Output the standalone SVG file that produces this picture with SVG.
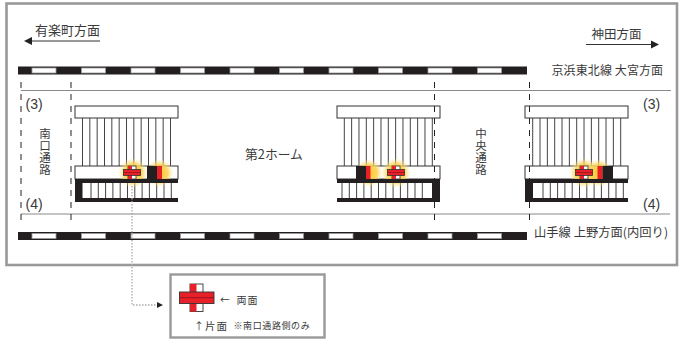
<svg xmlns="http://www.w3.org/2000/svg" width="683" height="340" viewBox="0 0 683 340">
<style>
text{font-family:"Noto Sans CJK JP","Noto Sans",sans-serif;fill:#3a3a3a;font-size:12px}
.lat{font-family:"Liberation Sans",sans-serif;font-size:14px}
.v{writing-mode:vertical-rl;font-size:11.5px;letter-spacing:.5px}
.frame{fill:#fff;stroke:#999;stroke-width:2.6}
.rule{stroke:#8a8a8a;stroke-width:1.2;fill:none}
.dash{stroke:#222;stroke-width:1;stroke-dasharray:6 6;fill:none}
.box{fill:#fff;stroke:#333;stroke-width:1}
.stair{stroke:#444;stroke-width:1;fill:none}
.blk{fill:#231f20}
.red{fill:#e8202a}
.railw{fill:#fff;stroke:#999;stroke-width:.8}
</style>
<defs>
<radialGradient id="glow"><stop offset="0" stop-color="#f9c520" stop-opacity="1"/><stop offset=".6" stop-color="#fbd050" stop-opacity=".85"/><stop offset="1" stop-color="#fdeaa0" stop-opacity="0"/></radialGradient>
<g id="cross">
<rect x="-4" y="-6.500" width="8" height="13" fill="#fff" stroke="#333" stroke-width=".8"/>
<rect x="-4" y="-6.500" width="4" height="13" class="red"/>
<rect x="-8.500" y="-3" width="17" height="6" class="red" stroke="#333" stroke-width=".8"/>
<path d="M-8.500 0H8.500" stroke="#7a1015" stroke-width=".6"/>
</g>
<path id="treads" class="stair" d="M0 0V48M7.330 0V48M14.670 0V48M22 0V48M29.330 0V48M36.670 0V48M44 0V48M51.330 0V48M58.670 0V48M66 0V48M73.330 0V48M80.670 0V48M88 0V48"/>
<path id="rails" stroke="#444" stroke-width="1" fill="none" d="M0 0V16M7.300 0V16M14.600 0V16M21.900 0V16M29.200 0V16M36.500 0V16M43.800 0V16M51.100 0V16M58.400 0V16M65.700 0V16M73 0V16M80.300 0V16"/>
</defs>
<rect id="frame" class="frame" x="6.500" y="3.500" width="670.500" height="261.500"/>
<g id="track-top">
<rect class="blk" x="18" y="66.500" width="509" height="8"/>
<g class="railw"><rect x="32" y="68" width="24" height="5"/><rect x="81.500" y="68" width="24" height="5"/><rect x="131" y="68" width="24" height="5"/><rect x="180.500" y="68" width="24" height="5"/><rect x="230" y="68" width="24" height="5"/><rect x="279.500" y="68" width="24" height="5"/><rect x="329" y="68" width="24" height="5"/><rect x="378.500" y="68" width="24" height="5"/><rect x="428" y="68" width="24" height="5"/><rect x="477.500" y="68" width="24" height="5"/></g>
</g>
<g id="track-bottom">
<rect class="blk" x="18" y="232" width="509" height="8"/>
<g class="railw"><rect x="32" y="233.500" width="24" height="5"/><rect x="81.500" y="233.500" width="24" height="5"/><rect x="131" y="233.500" width="24" height="5"/><rect x="180.500" y="233.500" width="24" height="5"/><rect x="230" y="233.500" width="24" height="5"/><rect x="279.500" y="233.500" width="24" height="5"/><rect x="329" y="233.500" width="24" height="5"/><rect x="378.500" y="233.500" width="24" height="5"/><rect x="428" y="233.500" width="24" height="5"/><rect x="477.500" y="233.500" width="24" height="5"/></g>
</g>
<path class="rule" d="M21 90.500H671M21 214H670"/>
<g id="stairs-west">
<rect class="box" x="75" y="106" width="103" height="12"/>
<use href="#treads" x="82.500" y="118"/>
<rect class="box" x="75" y="166" width="103" height="13"/>
<use href="#rails" x="91" y="183"/>
<circle cx="133" cy="173" r="15" fill="url(#glow)"/>
<circle cx="159.500" cy="173" r="14" fill="url(#glow)"/>
<rect class="blk" x="147" y="166" width="10" height="13"/>
<rect class="red" x="157" y="166" width="5" height="13"/>
<rect class="blk" x="75" y="179" width="103" height="4"/>
<rect class="blk" x="75" y="179" width="7.500" height="23"/>
<rect class="blk" x="75" y="198" width="103" height="4"/>
<use href="#cross" x="132" y="172.500"/>
</g>
<g id="stairs-centre">
<rect class="box" x="337" y="106" width="103" height="12"/>
<use href="#treads" x="344.300" y="118"/>
<rect class="box" x="337" y="166" width="103" height="13"/>
<use href="#rails" x="342" y="183"/>
<circle cx="369" cy="173" r="14" fill="url(#glow)"/>
<circle cx="396" cy="173" r="15" fill="url(#glow)"/>
<rect class="blk" x="356" y="166" width="10" height="13"/>
<rect class="red" x="366" y="166" width="4.500" height="13"/>
<rect class="blk" x="337" y="179" width="103" height="4"/>
<rect class="blk" x="432" y="179" width="8" height="23"/>
<rect class="blk" x="337" y="198" width="103" height="4"/>
<use href="#cross" x="396" y="172.500"/>
</g>
<g id="stairs-east">
<rect class="box" x="525" y="106" width="103" height="12"/>
<use href="#treads" x="532.700" y="118"/>
<rect class="box" x="525" y="166" width="103" height="13"/>
<use href="#rails" x="543" y="183"/>
<circle cx="584" cy="173" r="15" fill="url(#glow)"/>
<circle cx="599" cy="173" r="14" fill="url(#glow)"/>
<rect class="red" x="597.500" y="166" width="5" height="13"/>
<rect class="blk" x="602.500" y="166" width="10.500" height="13"/>
<rect class="blk" x="525" y="179" width="103" height="4"/>
<rect class="blk" x="525" y="179" width="8" height="23"/>
<rect class="blk" x="525" y="198" width="103" height="4"/>
<use href="#cross" x="584" y="172.500"/>
</g>
<g id="connectors">
<path class="dash" d="M21 82V222M71 82V222M434.500 82V222M529.500 82V222"/>
<path d="M32 41H100" stroke="#333" stroke-width="1" fill="none"/>
<path d="M32 37L24 41L32 45z" fill="#222"/>
<path d="M586 44.500H652" stroke="#333" stroke-width="1" fill="none"/>
<path d="M651 40.500L659 44.500L651 48.500z" fill="#222"/>
<path d="M132 186V305H159" stroke="#aaa" stroke-width="1.300" stroke-dasharray="1.500 1.500" fill="none"/>
<path d="M157 302L163 305L157 308z" fill="#222"/>
</g>
<g id="labels">
<text x="35" y="34.500" style="font-size:13px">有楽町方面</text>
<text x="591.500" y="39" style="font-size:12.500px">神田方面</text>
<text x="551.500" y="74.500" style="font-size:12px;letter-spacing:.1px">京浜東北線 大宮方面</text>
<text x="534" y="237" style="font-size:12.300px">山手線 上野方面(内回り)</text>
<text x="245" y="159" style="font-size:12.800px">第2ホーム</text>
<text class="lat" x="25.500" y="108.500">(3)</text>
<text class="lat" x="25.500" y="209">(4)</text>
<text class="lat" x="643" y="108.500">(3)</text>
<text class="lat" x="643" y="209">(4)</text>
<text class="v" x="45" y="128">南口通路</text>
<text class="v" x="481" y="128">中央通路</text>
</g>
<g id="legend">
<rect x="170.500" y="274.500" width="154" height="63" fill="#fff" stroke="#999" stroke-width="2.400"/>
<rect x="190" y="284" width="13" height="27.500" fill="#fff" stroke="#333" stroke-width=".9"/>
<rect x="190" y="284" width="6.500" height="27.500" class="red"/>
<rect x="179.500" y="292" width="34.500" height="11.500" class="red" stroke="#333" stroke-width=".9"/>
<path d="M179.500 297.700H214" stroke="#7a1015" stroke-width=".7"/>
<text x="220" y="303" style="font-size:9.500px">←</text>
<text x="236.500" y="303.500" style="font-size:10px;letter-spacing:1px">両面</text>
<text x="194" y="329.500" style="font-size:10px">↑</text>
<text x="205" y="329.500" style="font-size:10.500px;letter-spacing:1px">片面</text>
<text x="233.500" y="329" style="font-size:9px;letter-spacing:.6px">※南口通路側のみ</text>
</g>
</svg>
